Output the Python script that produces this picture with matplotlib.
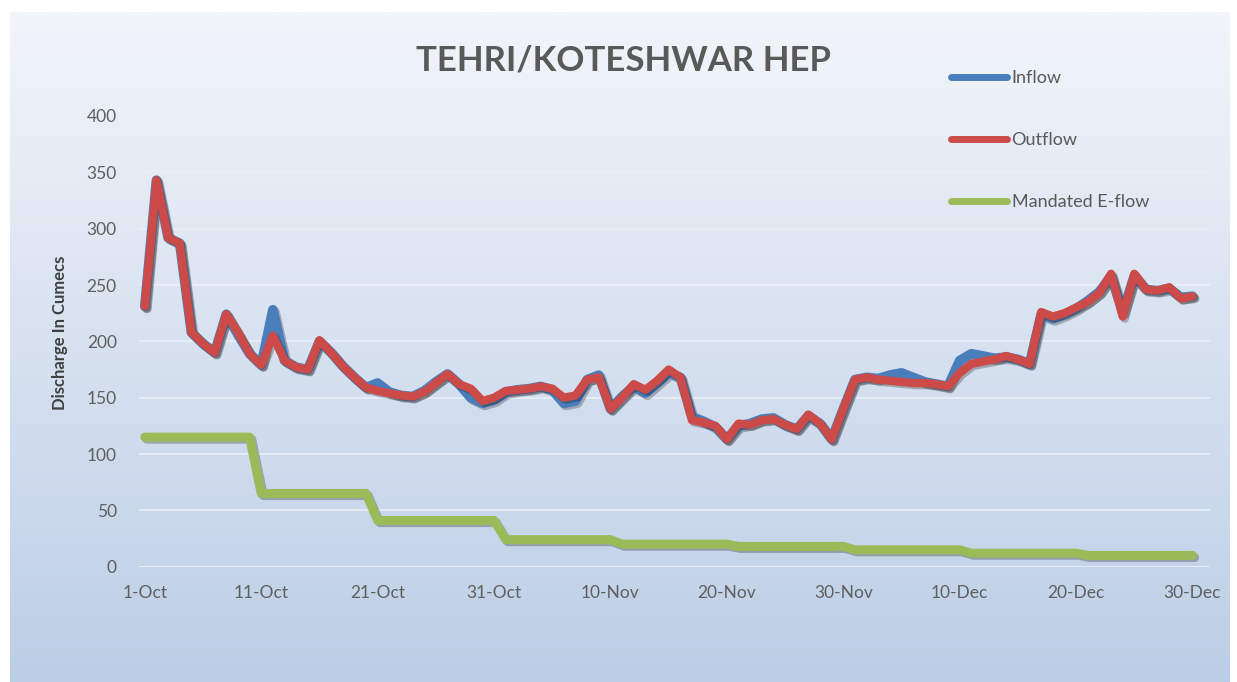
import numpy as np
import pandas as pd
import matplotlib
matplotlib.use("Agg")
import matplotlib.pyplot as plt
import matplotlib.patheffects as pe
from matplotlib.lines import Line2D

# ---------------- data ----------------
dates = pd.date_range("2015-10-01", "2015-12-30", freq="D")
tick_days = [0, 10, 20, 30, 40, 50, 60, 70, 80, 90]
tick_labels = ["1-Oct", "11-Oct", "21-Oct", "31-Oct", "10-Nov",
               "20-Nov", "30-Nov", "10-Dec", "20-Dec", "30-Dec"]

outflow = [231, 343, 292, 287, 208, 198, 190, 224, 208, 189,
           179, 205, 183, 177, 175, 201, 190, 178, 168, 159,
           156, 154, 152, 151, 155, 163, 171, 162, 158, 147,
           150, 156, 157, 158, 160, 158, 150, 152, 166, 168,
           140, 150, 162, 157, 165, 175, 168, 130, 128, 125,
           113, 127, 126, 130, 131, 126, 122, 135, 127, 113,
           140, 166, 168, 166, 165, 164, 163, 163, 162, 160,
           172, 180, 182, 184, 187, 184, 180, 226, 222, 225,
           230, 235, 243, 260, 222, 260, 246, 245, 248, 238,
           240]

inflow = [231, 343, 292, 287, 208, 198, 190, 224, 206, 189,
          179, 228, 183, 177, 175, 200, 190, 178, 168, 159,
          163, 155, 152, 151, 156, 164, 171, 162, 150, 145,
          148, 155, 157, 158, 160, 157, 145, 147, 166, 170,
          140, 151, 160, 154, 163, 172, 168, 133, 129, 124,
          113, 125, 127, 131, 132, 126, 122, 134, 127, 113,
          140, 166, 168, 167, 170, 172, 168, 164, 162, 160,
          183, 189, 187, 185, 186, 184, 180, 224, 220, 224,
          229, 236, 244, 258, 226, 258, 246, 245, 247, 239,
          240]

eflow = [115] * 10 + [65] * 10 + [41] * 11 + [24] * 10 + [20] * 10 + \
        [18] * 10 + [15] * 10 + [12] * 10 + [10] * 10

series_names = ["Inflow", "Outflow", "Mandated E-flow"]
series_colors = ["#4a7ebb", "#cc4a47", "#9bbb59"]

# ---------------- figure ----------------
W, H = 1237, 682
fig = plt.figure(figsize=(W / 100, H / 100), dpi=100, facecolor="white")

# gradient background panel
bg = fig.add_axes([10 / W, 0, 1220 / W, (H - 12) / H], zorder=-5)
grad = np.linspace(0, 1, 256).reshape(-1, 1)
top = np.array([0xf2, 0xf5, 0xfa]) / 255
bot = np.array([0xbc, 0xce, 0xe6]) / 255
img = top[None, None, :] * (1 - grad[:, :, None]) + bot[None, None, :] * grad[:, :, None]
bg.imshow(img, aspect="auto", extent=[0, 1, 0, 1], origin="upper")
bg.set_axis_off()

ax = fig.add_axes([139 / W, 1 - 566.7 / H, (1210 - 139) / W, (566.7 - 116) / H])
ax.set_facecolor("none")

days = np.arange(len(dates))
shadow = [pe.SimpleLineShadow(offset=(1.5, -1.5), alpha=0.25, rho=0.3), pe.Normal()]

ax.plot(days, eflow, color=series_colors[2], lw=6.5, solid_capstyle="round",
        solid_joinstyle="round", path_effects=shadow, zorder=3)
ax.plot(days, inflow, color=series_colors[0], lw=7, solid_capstyle="round",
        solid_joinstyle="round", path_effects=shadow, zorder=4)
ax.plot(days, outflow, color=series_colors[1], lw=6, solid_capstyle="round",
        solid_joinstyle="round", path_effects=shadow, zorder=5)

ax.set_xlim(-0.5, 91.5)
ax.set_ylim(0, 400)
ax.set_yticks(np.arange(0, 401, 50))
ax.set_xticks(tick_days)
ax.set_xticklabels(tick_labels)
ax.grid(axis="y", color="#e8eef6", lw=1.3, zorder=0)
ax.set_axisbelow(True)
for s in ax.spines.values():
    s.set_visible(False)
ax.tick_params(axis="both", length=0, colors="#5f5f5f", labelsize=12.5)
ax.tick_params(axis="y", pad=16)
ax.tick_params(axis="x", pad=13)
for lab in ax.get_xticklabels() + ax.get_yticklabels():
    lab.set_fontfamily("Lato")

fig.text(60 / W, 1 - 333 / H, "Discharge In Cumecs", rotation=90, ha="center",
         va="center", fontsize=12, fontweight="bold", color="#404040", family="Lato")

fig.text(623 / W, 1 - 60 / H, "TEHRI/KOTESHWAR HEP", ha="center", va="center",
         fontsize=25, fontweight="bold", color="#595959", family="Lato")

handles = [Line2D([], [], color=c, lw=5, solid_capstyle="round") for c in series_colors]
leg = fig.legend(handles, series_names, loc="upper left",
                 bbox_to_anchor=(942 / W, 1 - 61 / H), frameon=False,
                 borderpad=0, handlelength=3.1, handletextpad=0.25,
                 labelspacing=2.55, prop={"family": "Lato", "size": 13})
for t in leg.get_texts():
    t.set_color("#595959")

fig.savefig("out.png", dpi=100, facecolor="white")
